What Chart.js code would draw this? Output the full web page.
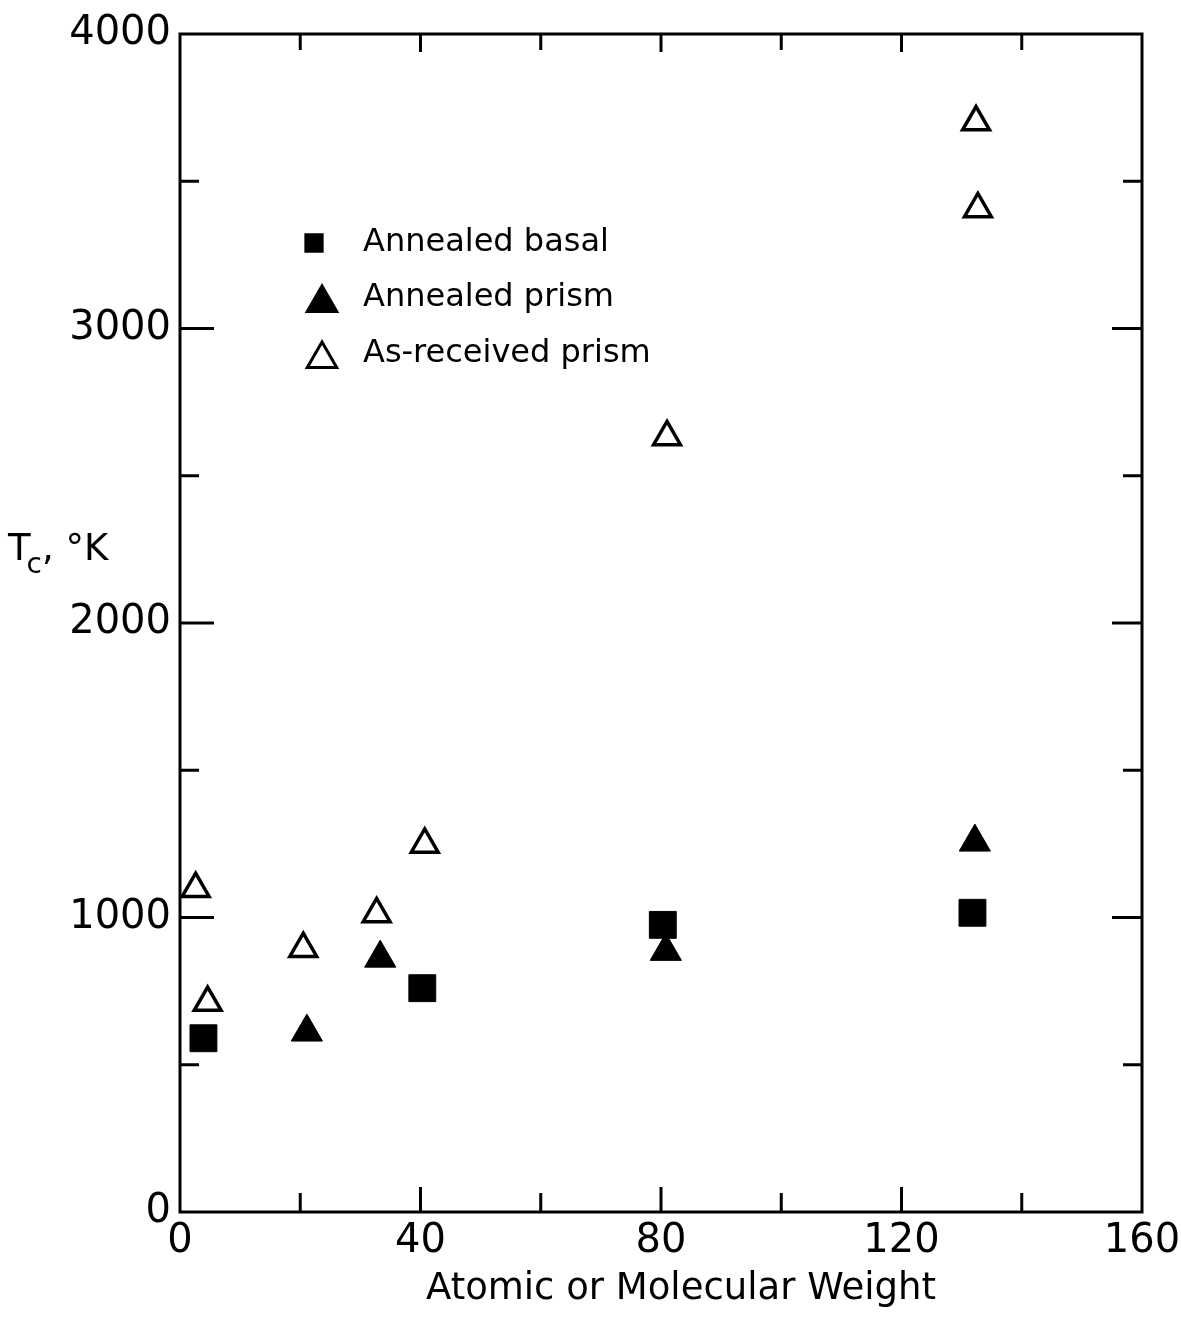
<!DOCTYPE html>
<html>
<head>
<meta charset="utf-8">
<script src="https://cdn.jsdelivr.net/npm/chart.js@4/dist/chart.umd.min.js"></script>
<style>
  html, body { margin: 0; padding: 0; background: #fff; overflow: hidden; }
  #wrap { width: 1181px; height: 1321px; position: relative; }
</style>
</head>
<body>
<div id="wrap"><canvas id="c"></canvas></div>
<script>
// ---- data ----
const seriesNames = ["Annealed basal", "Annealed prism", "As-received prism"];

const basalX = [3.9, 40.3, 80.3, 131.8];
const basalY = [590, 760, 975, 1016];

const annealedPrismX = [21.1, 33.3, 80.8, 132.2];
const annealedPrismY = [611, 862, 885, 1256];

const asReceivedX = [2.6, 4.6, 20.5, 32.7, 40.7, 81.0, 132.4, 132.7];
const asReceivedY = [1098, 711, 894, 1012, 1248, 2632, 3701, 3406];

const xTickLabels = [0, 40, 80, 120, 160];
const yTickLabels = [0, 1000, 2000, 3000, 4000];

const xTitle = "Atomic or Molecular Weight";
const yTitleMain = "T";
const yTitleSub = "c";
const yTitleRest = ", \u00B0K";

function pts(xs, ys) { return xs.map((x, i) => ({ x: x, y: ys[i] })); }

const FONT = "'DejaVu Sans', 'Open Sans', sans-serif";

function zeroPad(s) { s.paddingLeft = 0; s.paddingRight = 0; s.paddingTop = 0; s.paddingBottom = 0; }

const framePlugin = {
  id: 'frame',
  afterDraw(chart) {
    const ctx = chart.ctx;
    const a = chart.chartArea;
    const xs = chart.scales.x, ys = chart.scales.y;
    ctx.save();
    ctx.strokeStyle = '#000';
    ctx.lineWidth = 3;
    ctx.lineCap = 'square';
    ctx.strokeRect(a.left, a.top, a.right - a.left, a.bottom - a.top);
    // inward ticks
    ctx.lineWidth = 3;
    ctx.lineCap = 'butt';
    xs.ticks.forEach(t => {
      const px = xs.getPixelForValue(t.value);
      if (t.value <= xs.min || t.value >= xs.max) return;
      const major = xTickLabels.includes(t.value);
      const lb = major ? 25 : 19;
      const lt = major ? 18 : 16;
      ctx.beginPath();
      ctx.moveTo(px, a.bottom); ctx.lineTo(px, a.bottom - lb);
      ctx.moveTo(px, a.top); ctx.lineTo(px, a.top + lt);
      ctx.stroke();
    });
    ys.ticks.forEach(t => {
      const py = ys.getPixelForValue(t.value);
      if (t.value <= ys.min || t.value >= ys.max) return;
      const major = yTickLabels.includes(t.value);
      const l = major ? 34 : 19;
      ctx.beginPath();
      ctx.moveTo(a.left, py); ctx.lineTo(a.left + l, py);
      ctx.moveTo(a.right, py); ctx.lineTo(a.right - (major ? 30 : 19), py);
      ctx.stroke();
    });

    // axis titles
    ctx.fillStyle = '#000';
    ctx.textBaseline = 'alphabetic';
    ctx.textAlign = 'center';
    ctx.font = "37px " + FONT;
    ctx.fillText(xTitle, 681, 1299);

    ctx.textAlign = 'left';
    ctx.font = "37px " + FONT;
    let x0 = 8, base = 560;
    ctx.fillText(yTitleMain, x0, base);
    let w = ctx.measureText(yTitleMain).width;
    ctx.font = "28px " + FONT;
    ctx.fillText(yTitleSub, x0 + w - 4, base + 13);
    let w2 = ctx.measureText(yTitleSub).width;
    ctx.font = "37px " + FONT;
    ctx.fillText(yTitleRest, x0 + w - 4 + w2, base);

    // legend
    const lx = 322, ly = [243, 298, 354], tx = 363;
    chart.data.datasets.forEach((ds, i) => {
      const isRect = ds.pointStyle === 'rect';
      const r = isRect ? 11.5 : 17;
      ctx.save();
      ctx.fillStyle = ds.pointBackgroundColor;
      ctx.strokeStyle = ds.pointBorderColor;
      Chart.helpers.drawPoint(ctx, {
        pointStyle: ds.pointStyle, rotation: 0, radius: r,
        borderWidth: ds.pointBorderWidth
      }, isRect ? 314 : lx, ly[i] + (isRect ? 0 : 5));
      ctx.restore();
      ctx.fillStyle = '#000';
      ctx.font = "32px " + FONT;
      ctx.textBaseline = 'middle';
      ctx.textAlign = 'left';
      ctx.fillText(ds.label, tx, ly[i]);
    });
    ctx.restore();
  }
};

new Chart(document.getElementById('c'), {
  type: 'scatter',
  data: {
    datasets: [
      {
        label: seriesNames[0],
        data: pts(basalX, basalY),
        pointStyle: 'rect',
        pointRadius: 19,
        pointBackgroundColor: '#000',
        pointBorderColor: '#000',
        pointBorderWidth: 1
      },
      {
        label: seriesNames[1],
        data: pts(annealedPrismX, annealedPrismY),
        pointStyle: 'triangle',
        pointRadius: 18,
        pointBackgroundColor: '#000',
        pointBorderColor: '#000',
        pointBorderWidth: 1
      },
      {
        label: seriesNames[2],
        data: pts(asReceivedX, asReceivedY),
        pointStyle: 'triangle',
        pointRadius: 15.5,
        pointBackgroundColor: 'rgba(255,255,255,0)',
        pointBorderColor: '#000',
        pointBorderWidth: 3.5
      }
    ]
  },
  options: {
    responsive: true,
    maintainAspectRatio: false,
    animation: false,
    events: [],
    layout: { padding: { top: 34, right: 39, left: 0, bottom: 0 } },
    plugins: { legend: { display: false }, tooltip: { enabled: false } },
    scales: {
      x: {
        type: 'linear',
        min: 0, max: 160,
        grid: { display: false, drawTicks: false },
        border: { display: false },
        ticks: {
          stepSize: 20,
          padding: 6,
          color: '#000',
          font: { family: FONT, size: 40 },
          callback: v => xTickLabels.includes(v) ? String(v) : ''
        },
        afterFit: s => { s.height = 109; zeroPad(s); }
      },
      y: {
        type: 'linear',
        min: 0, max: 4000,
        grid: { display: false, drawTicks: false },
        border: { display: false },
        ticks: {
          stepSize: 500,
          padding: 9,
          color: '#000',
          font: { family: FONT, size: 40 },
          callback: v => yTickLabels.includes(v) ? String(v) : ''
        },
        afterFit: s => { s.width = 180; zeroPad(s); }
      }
    }
  },
  plugins: [framePlugin]
});
</script>
</body>
</html>
